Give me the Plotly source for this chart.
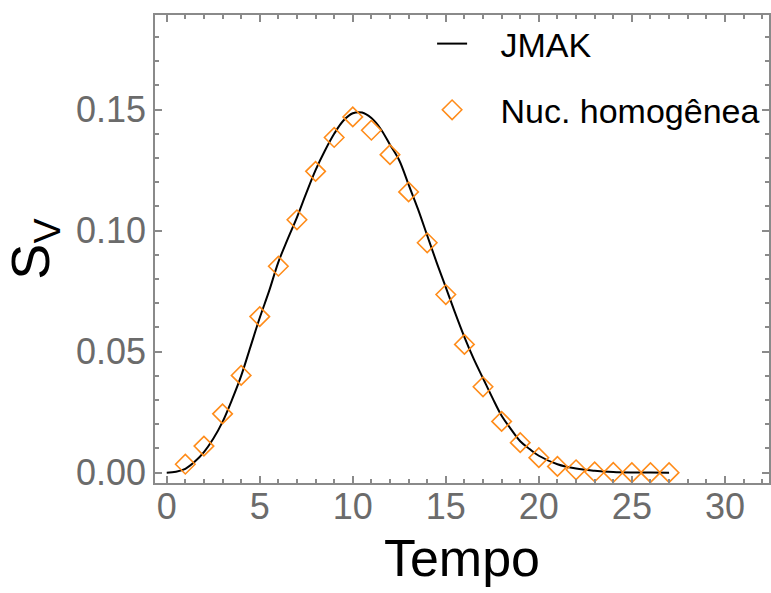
import plotly.graph_objects as go

# JMAK curve
t_curve = [0, 0.5, 1, 1.5, 2, 2.5, 3, 3.5, 4, 4.5, 5, 5.5, 6, 6.5, 7, 7.5, 8, 8.5, 9, 9.5,
           10, 10.5, 11, 11.5, 12, 12.5, 13, 13.5, 14, 14.5, 15, 15.5, 16, 16.5, 17, 17.5,
           18, 18.5, 19, 19.5, 20, 21, 22, 23, 24, 25, 26, 27]
sv_curve = [0.0, 0.0004, 0.0016, 0.0045, 0.0085, 0.014, 0.021, 0.030, 0.040, 0.052, 0.064, 0.075,
            0.087, 0.0965, 0.1055, 0.1155, 0.125, 0.133, 0.140, 0.1455,
            0.1485, 0.1488, 0.1465, 0.1420, 0.1355, 0.1290, 0.1190, 0.1090, 0.0980, 0.0870,
            0.0766, 0.0660, 0.0560, 0.0470, 0.0390, 0.0310,
            0.0235, 0.0180, 0.0130, 0.0098, 0.0070, 0.0035, 0.0017, 0.0008, 0.0003, 0.0001, 0.00003, 0.0]

# Homogeneous nucleation points
t_pts = list(range(1, 28))
sv_pts = [0.0035, 0.011, 0.0243, 0.0402, 0.0645, 0.0853, 0.1045, 0.1245, 0.1385, 0.147,
          0.1415, 0.1314, 0.116, 0.095, 0.0736, 0.053, 0.0355, 0.0212, 0.0124, 0.0062,
          0.0026, 0.0012, 0.0003, 0.0001, 0.0, 0.0, 0.0]

x_range = [-0.63, 32.37]
y_range = [-0.00426, 0.1891]

axis_col = "#8a8a8a"
font_fam = "Liberation Sans, Arial, sans-serif"
tick_font = dict(family=font_fam, size=36, color="#6b6b6b")
NB = "\u00a0\u00a0\u00a0"

fig = go.Figure()
fig.add_trace(go.Scatter(
    x=t_curve, y=sv_curve, mode="lines", name=NB + "JMAK",
    line=dict(color="black", width=2, shape="spline"),
    legendgroup="a"))
fig.add_trace(go.Scatter(
    x=t_pts, y=sv_pts, mode="markers", name=NB + "Nuc. homogênea",
    marker=dict(symbol="diamond-open", size=15, color="#ff8c1a", line=dict(width=1.6, color="#ff8c1a")),
    legendgroup="b"))

fig.update_layout(
    width=771, height=593,
    margin=dict(l=155, r=0, t=15, b=110),
    paper_bgcolor="white", plot_bgcolor="white",
    showlegend=True,
    legend=dict(x=(433 - 155) / 616, y=1.0, xanchor="left", yanchor="top",
                font=dict(family=font_fam, size=34, color="black"),
                bgcolor="rgba(0,0,0,0)", itemwidth=30, traceorder="grouped", tracegroupgap=19),
    xaxis=dict(
        range=x_range, showgrid=False, zeroline=False,
        showline=True, linecolor=axis_col, linewidth=1.5, mirror="ticks",
        ticks="inside", ticklen=7, tickwidth=2, tickcolor=axis_col,
        tick0=0, dtick=5, tickfont=tick_font, ticklabelstandoff=-9,
        minor=dict(ticks="inside", ticklen=4, tickwidth=1.5, tickcolor=axis_col, dtick=1, tick0=0, showgrid=False),
        title=dict(text="Tempo", font=dict(family=font_fam, size=52, color="black"), standoff=14),
    ),
    yaxis=dict(
        range=y_range, showgrid=False, zeroline=False,
        showline=True, linecolor=axis_col, linewidth=1.5, mirror="ticks",
        ticks="inside", ticklen=7, tickwidth=2, tickcolor=axis_col,
        tick0=0, dtick=0.05, tickformat=".2f", tickfont=tick_font,
        minor=dict(ticks="inside", ticklen=4, tickwidth=1.5, tickcolor=axis_col, dtick=0.01, tick0=0, showgrid=False),
        title=dict(text="S<sub>V</sub>", font=dict(family=font_fam, size=54, color="black"), standoff=14),
    ),
)

fig.write_html("out.html")
